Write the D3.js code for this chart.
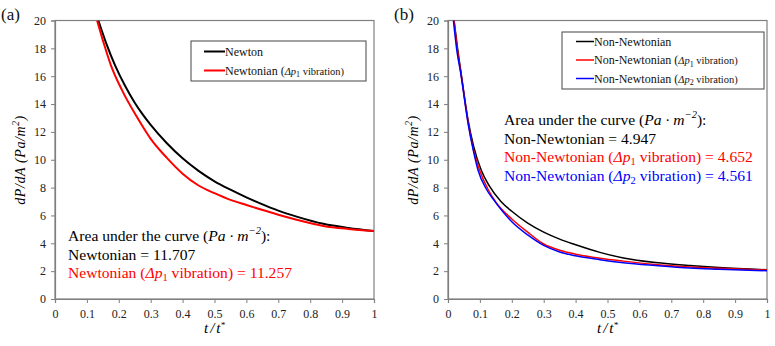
<!DOCTYPE html>
<html>
<head>
<meta charset="utf-8">
<script src="https://cdn.jsdelivr.net/npm/d3@7"></script>
<style>
  body { margin: 0; background: #fff; }
  svg text { font-family: "Liberation Serif", "DejaVu Serif", serif; }
</style>
</head>
<body>
<div id="chart"></div>
<script>
// ---- data ----
const tTicks = [0, 0.1, 0.2, 0.3, 0.4, 0.5, 0.6, 0.7, 0.8, 0.9, 1];
const yTicks = [0, 2, 4, 6, 8, 10, 12, 14, 16, 18, 20];

const newtonT = [0.136, 0.16, 0.188, 0.22, 0.25, 0.272, 0.3, 0.35, 0.4, 0.45, 0.5, 0.55, 0.6, 0.643, 0.7, 0.76, 0.841, 0.92, 1.0];
const newtonV = [20, 18.4, 16.8, 15.3, 14.1, 13.35, 12.5, 11.2, 10.1, 9.2, 8.45, 7.85, 7.3, 6.87, 6.35, 5.9, 5.4, 5.1, 4.88];

const newtonVibT = [0.132, 0.155, 0.175, 0.21, 0.256, 0.3, 0.35, 0.4, 0.45, 0.5, 0.55, 0.6, 0.643, 0.7, 0.76, 0.841, 0.92, 1.0];
const newtonVibV = [20, 18.2, 16.8, 15.0, 13.1, 11.5, 10.15, 9.0, 8.15, 7.6, 7.12, 6.75, 6.44, 6.05, 5.68, 5.25, 5.03, 4.88];

const nonNewT = [0.019, 0.03, 0.04, 0.063, 0.08, 0.104, 0.13, 0.166, 0.2, 0.25, 0.3, 0.35, 0.4, 0.476, 0.55, 0.65, 0.759, 0.85, 1.0];
const nonNewV = [20, 18.0, 16.4, 12.85, 11.0, 9.26, 8.1, 7.0, 6.3, 5.45, 4.8, 4.3, 3.9, 3.35, 2.95, 2.62, 2.4, 2.26, 2.1];

const nonNewP1T = [0.019, 0.03, 0.04, 0.063, 0.08, 0.1, 0.125, 0.15, 0.2, 0.25, 0.3, 0.35, 0.4, 0.476, 0.55, 0.65, 0.759, 0.85, 1.0];
const nonNewP1V = [20, 17.8, 16.3, 12.7, 10.7, 9.2, 7.9, 6.95, 5.75, 4.8, 3.95, 3.5, 3.22, 2.93, 2.72, 2.48, 2.3, 2.2, 2.08];

const nonNewP2T = [0.017, 0.028, 0.04, 0.063, 0.08, 0.094, 0.12, 0.144, 0.2, 0.25, 0.3, 0.35, 0.4, 0.476, 0.55, 0.65, 0.759, 0.85, 1.0];
const nonNewP2V = [20, 17.8, 16.2, 12.6, 10.6, 9.26, 7.9, 7.1, 5.55, 4.6, 3.85, 3.38, 3.1, 2.82, 2.6, 2.4, 2.22, 2.14, 2.03];

const panels = [
  {
    tag: "(a)", left: 55, right: 374,
    series: [
      { name: "Newton", t: newtonT, v: newtonV, color: "#000" },
      { name: "Newtonian (Δp1 vibration)", t: newtonVibT, v: newtonVibV, color: "#ff0000" }
    ],
    legend: { x: 191, y: 41, w: 175, h: 40, labels: [["Newton"], ["Newtonian (", "Δp", "1", " vibration)"]] },
    note: { x: 68, y: 241, lines: [
      { color: "#000", parts: [["Area under the curve (", ""], ["Pa · m", "i"], ["−2", "isup"], ["):", ""]] },
      { color: "#000", parts: [["Newtonian = 11.707", ""]] },
      { color: "#ff0000", parts: [["Newtonian (", ""], ["Δp", "i"], ["1", "sub"], [" vibration) = 11.257", ""]] }
    ] }
  },
  {
    tag: "(b)", left: 448, right: 767,
    series: [
      { name: "Non-Newtonian", t: nonNewT, v: nonNewV, color: "#000" },
      { name: "Non-Newtonian (Δp1 vibration)", t: nonNewP1T, v: nonNewP1V, color: "#ff0000" },
      { name: "Non-Newtonian (Δp2 vibration)", t: nonNewP2T, v: nonNewP2V, color: "#0000ff" }
    ],
    legend: { x: 562, y: 32, w: 202, h: 57, labels: [["Non-Newtonian"], ["Non-Newtonian (", "Δp", "1", " vibration)"], ["Non-Newtonian (", "Δp", "2", " vibration)"]] },
    note: { x: 504, y: 125, lines: [
      { color: "#000", parts: [["Area under the curve (", ""], ["Pa · m", "i"], ["−2", "isup"], ["):", ""]] },
      { color: "#000", parts: [["Non-Newtonian = 4.947", ""]] },
      { color: "#ff0000", parts: [["Non-Newtonian (", ""], ["Δp", "i"], ["1", "sub"], [" vibration) = 4.652", ""]] },
      { color: "#0000ff", parts: [["Non-Newtonian (", ""], ["Δp", "i"], ["2", "sub"], [" vibration) = 4.561", ""]] }
    ] }
  }
];

const W = 775, H = 346, plotTop = 20.5, plotBottom = 299;

const svg = d3.select("#chart").append("svg")
  .attr("width", W).attr("height", H)
  .attr("font-family", "Liberation Serif, serif");

panels.forEach((p, pi) => {
  const x = d3.scaleLinear().domain([0, 1]).range([p.left, p.right]);
  const y = d3.scaleLinear().domain([0, 20]).range([plotBottom, plotTop]);
  const g = svg.append("g");

  // frame
  g.append("rect")
    .attr("x", p.left).attr("y", plotTop)
    .attr("width", p.right - p.left).attr("height", plotBottom - plotTop)
    .attr("fill", "none").attr("stroke", "#7f7f7f").attr("stroke-width", 1.2);

  // axes
  const xAxis = g.append("g").attr("transform", `translate(0,${plotBottom})`)
    .call(d3.axisBottom(x).tickValues(tTicks).tickSize(4).tickPadding(6)
      .tickFormat(d => d3.format("")(d)));
  const yAxis = g.append("g").attr("transform", `translate(${p.left},0)`)
    .call(d3.axisLeft(y).tickValues(yTicks).tickSize(4).tickPadding(5));
  [xAxis, yAxis].forEach(a => {
    a.attr("font-family", null);
    a.select(".domain").attr("stroke", "#7f7f7f").attr("stroke-width", 1.2);
    a.selectAll(".tick line").attr("stroke", "#7f7f7f");
    a.selectAll(".tick text").attr("font-size", 12).attr("fill", "#222");
  });

  // axis titles
  const xt = g.append("text")
    .attr("x", (p.left + p.right) / 2).attr("y", 333)
    .attr("text-anchor", "middle").attr("font-size", 15).attr("font-style", "italic");
  xt.append("tspan").text("t");
  xt.append("tspan").attr("dx", 2).text("/");
  xt.append("tspan").attr("dx", 2).text("t");
  xt.append("tspan").attr("font-size", 9).attr("dy", -5).text("*");

  const yt = g.append("text")
    .attr("transform", `translate(${p.left - 30},160) rotate(-90)`)
    .attr("text-anchor", "middle").attr("font-size", 14).attr("font-style", "italic")
    .attr("letter-spacing", 0.6);
  yt.append("tspan").text("dP/dA  (Pa/m");
  yt.append("tspan").attr("font-size", 9.5).attr("dy", -6).text("2");
  yt.append("tspan").attr("dy", 6).text(")");

  // lines
  const clipId = "clip" + pi;
  g.append("clipPath").attr("id", clipId).append("rect")
    .attr("x", p.left).attr("y", plotTop).attr("width", p.right - p.left).attr("height", plotBottom - plotTop);
  const line = d3.line().x(d => x(d[0])).y(d => y(d[1])).curve(d3.curveMonotoneX);
  p.series.forEach(s => {
    const pts = s.t.map((t, i) => [t, s.v[i]]);
    g.append("path").datum(pts)
      .attr("clip-path", `url(#${clipId})`)
      .attr("d", line).attr("fill", "none")
      .attr("stroke", s.color).attr("stroke-width", pi === 0 ? 2 : 1.5);
  });

  // legend
  const L = p.legend;
  g.append("rect").attr("x", L.x).attr("y", L.y).attr("width", L.w).attr("height", L.h)
    .attr("fill", "#fff").attr("stroke", "#444").attr("stroke-width", 1);
  const step = pi === 0 ? 19 : 18.5;
  const y0 = L.y + (pi === 0 ? 10.5 : 9.5);
  const lx0 = pi === 0 ? L.x + 13 : L.x + 14;
  const lx1 = pi === 0 ? L.x + 34 : L.x + 32;
  p.series.forEach((s, i) => {
    const yy = y0 + i * step;
    g.append("line").attr("x1", lx0).attr("x2", lx1).attr("y1", yy).attr("y2", yy)
      .attr("stroke", s.color).attr("stroke-width", pi === 0 ? 2 : 1.5);
    const txt = g.append("text").attr("x", lx1).attr("y", yy + 4).attr("font-size", 12).attr("fill", "#111");
    const parts = L.labels[i];
    txt.append("tspan").text(parts[0]);
    if (parts.length > 1) {
      txt.append("tspan").attr("font-size", 10.5).attr("font-style", "italic").text(parts[1]);
      txt.append("tspan").attr("font-size", 8).attr("dy", 2.5).text(parts[2]);
      txt.append("tspan").attr("dy", -2.5).attr("font-size", 10.5).text(parts[3]);
    }
  });

  // area annotation
  const N = p.note;
  N.lines.forEach((ln, i) => {
    const t = g.append("text").attr("x", N.x).attr("y", N.y + i * 18.6)
      .attr("font-size", 15.6).attr("fill", ln.color);
    let shift = 0;
    ln.parts.forEach(([s, kind]) => {
      const sp = t.append("tspan").text(s);
      let target = 0;
      if (kind === "i") sp.attr("font-style", "italic");
      if (kind === "isup") { sp.attr("font-style", "italic").attr("font-size", 10.5); target = -7; }
      if (kind === "sub") { sp.attr("font-size", 10.5); target = 3; }
      sp.attr("dy", target - shift);
      shift = target;
    });
  });

  // panel tag
  g.append("text").attr("x", p.left - 54).attr("y", 20)
    .attr("font-size", 17).attr("fill", "#111").text(p.tag);
});
</script>
</body>
</html>
